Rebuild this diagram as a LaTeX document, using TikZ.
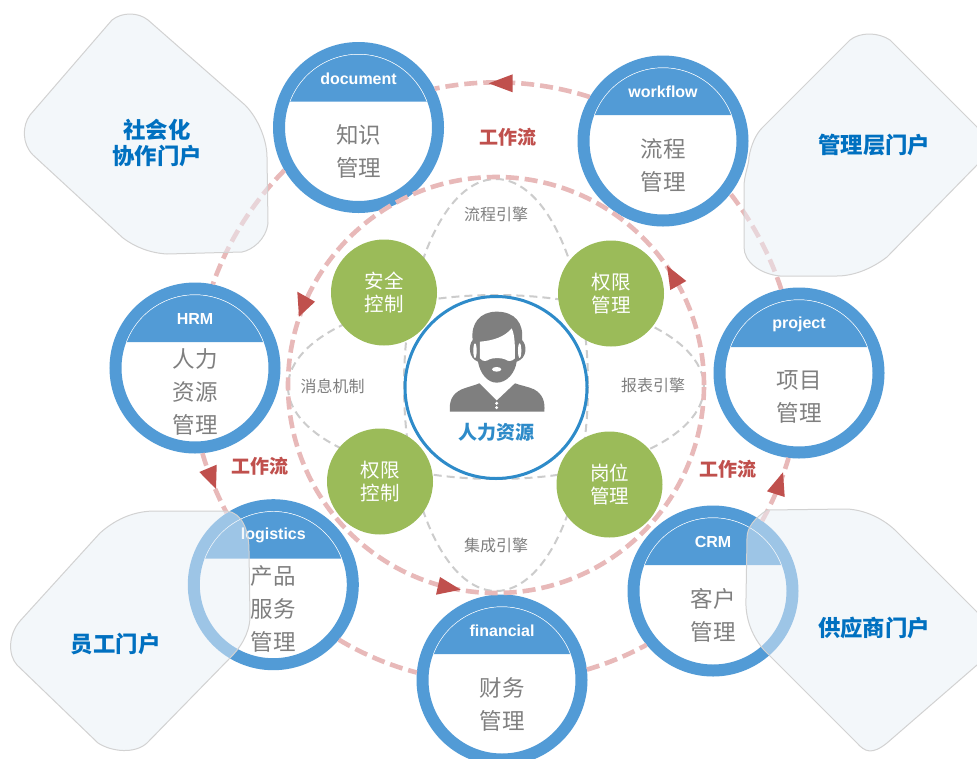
\documentclass[tikz,border=0pt]{standalone}
\usepackage{fontspec}
\setmainfont{Noto Sans CJK SC}
\newfontfamily\enfont{Liberation Sans}
\definecolor{ringblue}{HTML}{529BD6}
\definecolor{leafgreen}{HTML}{9BBB59}
\definecolor{txtgray}{HTML}{7F7F7F}
\definecolor{flowpink}{HTML}{E8B9B9}
\definecolor{flowred}{HTML}{C0504D}
\definecolor{portalblue}{HTML}{0070C0}
\definecolor{hubblue}{HTML}{2E8BC9}
\definecolor{portalfill}{HTML}{E9F0F7}
\definecolor{portaledge}{HTML}{D2D2D2}
\definecolor{petalgray}{HTML}{CCCCCC}
\tikzset{
  modring/.style={circle,draw=ringblue,line width=12pt,fill=white,minimum size=159pt,inner sep=0pt},
  leaf/.style={circle,fill=leafgreen,minimum size=106pt,inner sep=0pt,text=white,align=center,
    font=\fontsize{19.5}{23}\selectfont},
  hub/.style={circle,draw=hubblue,line width=3pt,fill=white,minimum size=182pt,inner sep=0pt},
  modhead/.style={text=white,font=\enfont\bfseries\fontsize{16}{18}\selectfont,inner sep=0pt},
  modtext/.style={text=txtgray,align=center,inner sep=0pt,font=\fontsize{22.5}{33}\selectfont},
  flow/.style={draw=flowpink,line width=4.6pt,dash pattern=on 13pt off 6pt},
  arc seg/.style={bend right=#1,looseness=0.86},
  petal/.style={draw=petalgray,line width=2pt,dash pattern=on 8pt off 5pt},
  portal/.style={draw=portaledge,line width=1pt,fill=portalfill,fill opacity=0.5},
  portaltext/.style={text=portalblue,align=center,inner sep=0pt,font=\bfseries\fontsize{22.4}{26}\selectfont},
  flowtext/.style={text=flowred,inner sep=0pt,font=\bfseries\fontsize{19}{22}\selectfont},
  engine/.style={text=txtgray,inner sep=0pt,font=\fontsize{16}{19}\selectfont},
  arrowtri/.style={fill=flowred},
  person/.style={fill=txtgray},
}
\newcommand{\modring}[3]{\node[modring] (#1) at (#2,#3) {};}
\newcommand{\modhead}[5]{%
  \fill[ringblue] (#2-68.5,#3-26) arc[start angle=159.2,end angle=20.8,radius=73.2pt] -- cycle;
  \draw[white,line width=0.45pt] (#2-68.5,#3-26) arc[start angle=159.2,end angle=20.8,radius=73.2pt];
  \node[modhead] (#1h) at (#2,#3-49) {#4};
  \node[modtext] (#1t) at (#2,#3+24.2) {#5};}
\begin{document}
\begin{tikzpicture}[x=1pt,y=-1pt]
\useasboundingbox (0,0) rectangle (977,758);
\clip (0,0) rectangle (977,758);
\fill[white] (0,0) rectangle (977,758);
\coordinate (O) at (496,385);
% petals
\draw[petal] (496,385) ellipse [x radius=92,y radius=206];
\draw[petal] (496,387) ellipse [x radius=208,y radius=92];
% module rings
\modring{doc}{358.5}{127.5}
\modring{wf}{663}{141}
\modring{prj}{799}{373}
\modring{crm}{713}{591}
\modring{fin}{502}{680}
\modring{lgs}{273.3}{584.7}
\modring{hrm}{195}{368}
% outer flow arcs, ring to ring
\draw[flow] (wf.149.5) to[arc seg=14.85] (doc.27);
\draw[flow] (doc.210.8) to[arc seg=12.65] (hrm.78);
\draw[flow] (hrm.275.6) to[arc seg=6.15] (lgs.123);
\draw[flow] (lgs.-40.2) to[arc seg=8.1] (fin.175);
\draw[flow] (fin.7) to[arc seg=6.2] (crm.219);
\draw[flow] (crm.55) to[arc seg=6.2] (prj.263);
\draw[flow] (prj.102) to[arc seg=9.9] (wf.-38.7);
\modhead{doc}{358.5}{127.5}{document}{知识\\管理}
\modhead{wf}{663}{141}{workflow}{流程\\管理}
\modhead{prj}{799}{373}{project}{项目\\管理}
\modhead{crm}{713}{591}{CRM}{客户\\管理}
\modhead{fin}{502}{680}{financial}{财务\\管理}
\modhead{lgs}{273.3}{584.7}{logistics}{产品\\服务\\管理}
\modhead{hrm}{195}{368}{HRM}{人力\\资源\\管理}
% inner flow ring
\draw[flow] (O) circle [radius=208pt];
% centre and leaves
\node[hub] (hub) at (496,387.5) {};
\node[leaf] (l1) at (384,292.5) {安全\\控制};
\node[leaf] (l2) at (611,293.5) {权限\\管理};
\node[leaf] (l3) at (380,481.5) {权限\\控制};
\node[leaf] (l4) at (609.5,484.5) {岗位\\管理};
% person icon
\begin{scope}[shift={(400,290)},x=0.3333pt,y=-0.3333pt]
  \fill[person] (150,365) .. controls (147,335) and (155,312) .. (185,298)
     .. controls (205,290) and (225,286) .. (238,280) -- (290,332) -- (345,280)
     .. controls (360,286) and (385,290) .. (402,298)
     .. controls (428,312) and (436,335) .. (433,365) -- cycle;
  \fill[white] (290,340) circle [radius=5];
  \fill[white] (290,353) circle [radius=5];
  \fill[person] (218,150) .. controls (212,100) and (240,65) .. (290,65)
     .. controls (345,65) and (372,100) .. (366,150)
     .. controls (382,165) and (382,205) .. (350,215)
     .. controls (345,250) and (320,278) .. (290,278)
     .. controls (262,278) and (240,250) .. (234,215)
     .. controls (205,205) and (205,165) .. (218,150) -- cycle;
  \fill[white] (240,155) .. controls (280,152) and (315,140) .. (335,115)
     .. controls (345,135) and (345,170) .. (345,205)
     .. controls (335,215) and (325,215) .. (315,208)
     .. controls (305,203) and (278,203) .. (268,208)
     .. controls (258,215) and (248,215) .. (240,205) -- cycle;
  \fill[white] (225,182) ellipse [x radius=5,y radius=22];
  \fill[white] (359,182) ellipse [x radius=5,y radius=22];
  \fill[white] (290,238) ellipse [x radius=14,y radius=7];
\end{scope}
\node[text=hubblue,inner sep=0pt,font=\bfseries\fontsize{19}{22}\selectfont] (hubt) at (496,432) {人力资源};
% engine labels
\node[engine] (e1) at (496,214) {流程引擎};
\node[engine] (e2) at (332.5,386) {消息机制};
\node[engine] (e3) at (653,385) {报表引擎};
\node[engine] (e4) at (496,545) {集成引擎};
% arrow heads
\fill[arrowtri] (488.7,83.3) -- (512.7,74.3) -- (512.7,92.3) -- cycle;
\fill[arrowtri] (216,489) -- (199.3,472) -- (216.7,464.7) -- cycle;
\fill[arrowtri] (783,472.3) -- (784.7,497) -- (767,491.3) -- cycle;
\fill[arrowtri] (299,316.7) -- (297.3,291.7) -- (315,301.7) -- cycle;
\fill[arrowtri] (667,265.7) -- (686.3,281) -- (670.3,290) -- cycle;
\fill[arrowtri] (460.7,589.7) -- (440,577) -- (436,594.7) -- cycle;
\node[flowtext] (f1) at (508,137) {工作流};
\node[flowtext] (f2) at (260,466) {工作流};
\node[flowtext] (f3) at (728,469) {工作流};
% portals
\path[portal] (112,20) .. controls (122,12) and (138,12) .. (148,20) -- (245,105)
  .. controls (258,118) and (267,140) .. (267,157) -- (268,223)
  .. controls (266,240) and (252,250) .. (242,252) -- (167,254)
  .. controls (150,253) and (135,247) .. (123,238) -- (33,155)
  .. controls (22,144) and (22,126) .. (30,115) -- cycle;
\path[portal] (850,40) .. controls (860,32) and (878,32) .. (890,40) -- (977,127)
  -- (990,146) -- (977,165) -- (887,257)
  .. controls (870,270) and (852,276) .. (837,276) -- (780,276)
  .. controls (760,274) and (744,262) .. (744,247) -- (744,187)
  .. controls (744,175) and (749,165) .. (749,157) .. controls (751,145) and (756,134) .. (762,128) -- cycle;
\path[portal] (155,511) -- (227,511) .. controls (242,513) and (249,530) .. (249,551)
  -- (250,618) .. controls (249,635) and (240,648) .. (230,658) -- (147,743)
  .. controls (135,754) and (112,752) .. (98,743) -- (17,665)
  .. controls (8,655) and (8,635) .. (20,621) -- (100,533)
  .. controls (118,517) and (137,511) .. (155,511) -- cycle;
\path[portal] (767,510) -- (847,509) .. controls (865,510) and (882,518) .. (895,530)
  -- (977,612) -- (995,640) -- (977,665) -- (887,743)
  .. controls (872,755) and (865,752) .. (857,743) -- (764,650)
  .. controls (750,634) and (745,615) .. (746,598) -- (747,538)
  .. controls (747,527) and (755,518) .. (767,510) -- cycle;
\node[portaltext] (p1) at (157,143) {社会化\\协作门户};
\node[portaltext] (p2) at (874.3,144.7) {管理层门户};
\node[portaltext] (p3) at (115.7,643.7) {员工门户};
\node[portaltext] (p4) at (874,628) {供应商门户};
\end{tikzpicture}
\end{document}
